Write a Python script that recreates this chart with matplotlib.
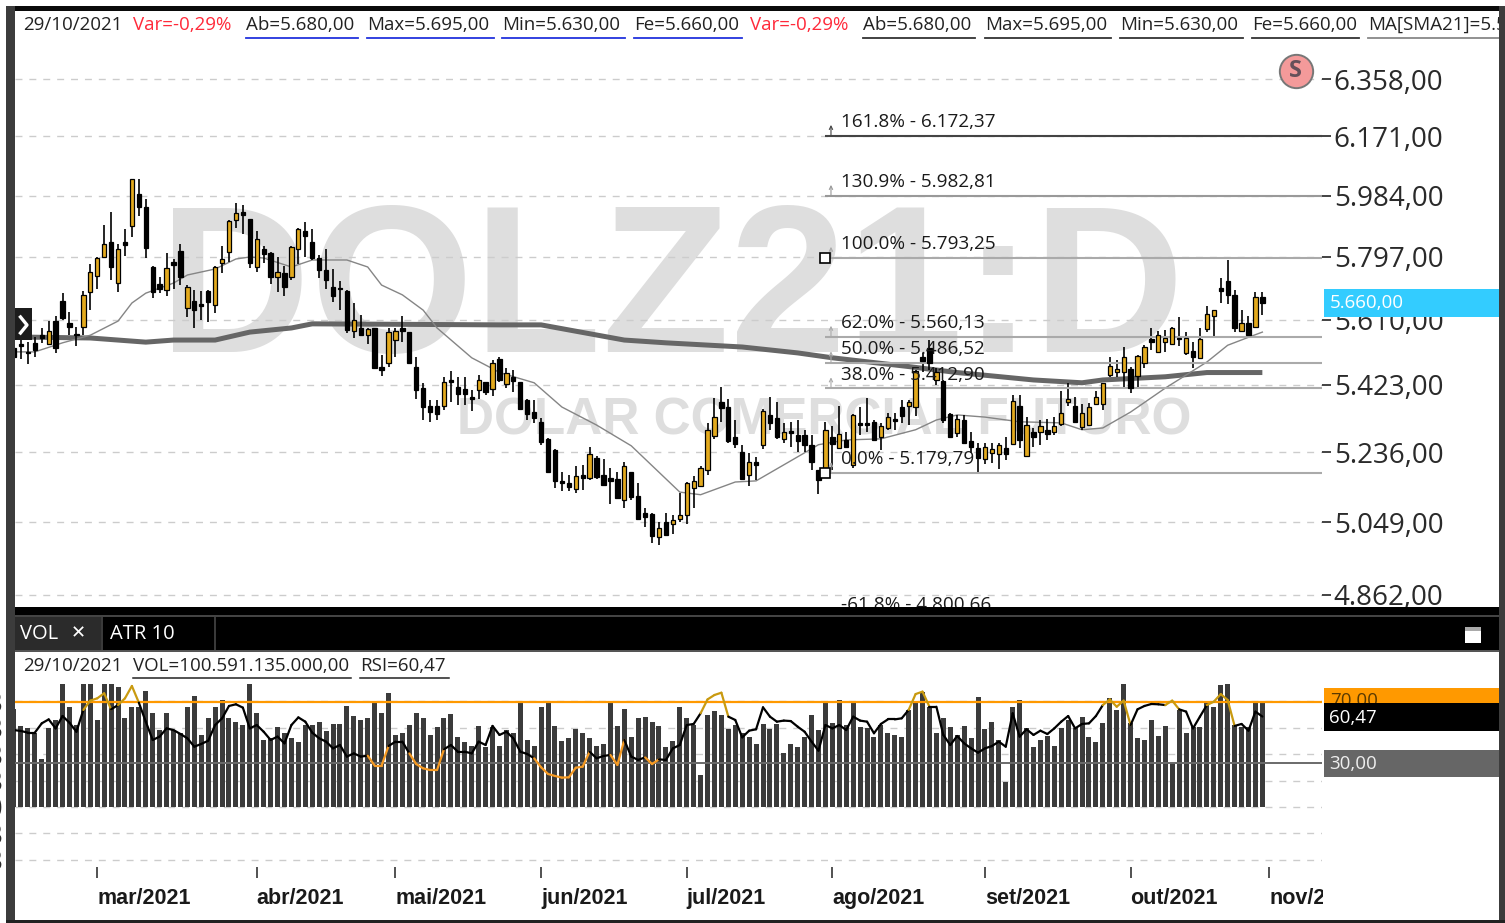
import matplotlib
matplotlib.use('Agg')
import matplotlib.pyplot as plt
import numpy as np
from matplotlib.patches import Rectangle
from matplotlib.lines import Line2D
from matplotlib.ticker import NullLocator
from matplotlib.transforms import offset_copy

W, H = 1505, 923
plt.rcParams['font.family'] = ['Open Sans', 'DejaVu Sans']

# daily candles, one per session
highs = [5537,5551,5546,5561,5585,5606,5621,5688,5634,5590,
         5693,5775,5797,5893,5932,5835,5880,6036,6036,5972,
         5769,5737,5809,5789,5835,5712,5697,5693,5697,5769,
         5829,5908,5960,5955,5913,5875,5829,5812,5797,5769,
         5829,5885,5903,5880,5802,5819,5759,5725,5697,5660,
         5624,5585,5585,5508,5585,5585,5622,5575,5503,5428,
         5381,5381,5446,5463,5446,5446,5409,5451,5432,5494,
         5501,5470,5466,5432,5383,5381,5330,5275,5244,5184,
         5175,5198,5202,5252,5225,5218,5193,5184,5211,5184,
         5152,5086,5073,5051,5074,5068,5127,5157,5172,5200,
         5316,5386,5418,5383,5325,5256,5234,5223,5355,5390,
         5376,5316,5320,5325,5298,5284,5189,5320,5309,5364,
         5293,5342,5362,5386,5325,5316,5343,5343,5381,5381,
         5465,5513,5551,5470,5437,5344,5339,5339,5293,5263,
         5261,5261,5261,5279,5395,5395,5334,5302,5325,5328,
         5334,5407,5428,5390,5370,5372,5407,5428,5501,5494,
         5532,5475,5508,5537,5585,5578,5580,5590,5617,5575,
         5546,5585,5650,5639,5732,5787,5697,5639,5621,5692,5692]
lows = [5495,5496,5483,5503,5542,5537,5513,5610,5565,5534,
        5565,5637,5701,5792,5727,5690,5799,5856,5922,5794,
        5673,5688,5680,5699,5712,5619,5587,5609,5602,5631,
        5747,5782,5883,5865,5762,5750,5777,5715,5690,5680,
        5727,5775,5797,5787,5732,5701,5663,5637,5572,5556,
        5563,5540,5470,5448,5473,5503,5544,5483,5383,5325,
        5320,5325,5353,5376,5367,5367,5351,5383,5395,5392,
        5430,5414,5404,5353,5325,5316,5256,5179,5141,5132,
        5132,5127,5134,5161,5165,5146,5097,5110,5088,5108,
        5058,5038,4996,4990,5012,5018,5051,5045,5086,5145,
        5175,5272,5320,5261,5247,5161,5145,5161,5244,5298,
        5272,5261,5250,5238,5238,5189,5125,5179,5189,5247,
        5247,5193,5284,5293,5270,5243,5298,5298,5316,5311,
        5337,5460,5465,5423,5318,5275,5279,5259,5234,5181,
        5205,5207,5191,5216,5256,5247,5227,5252,5256,5270,
        5284,5307,5364,5316,5297,5307,5367,5353,5446,5444,
        5418,5401,5418,5470,5522,5513,5518,5537,5534,5508,
        5470,5496,5573,5559,5658,5656,5573,5575,5566,5588,5624]
opens = [5527,5539,5518,5542,5565,5539,5606,5666,5601,5568,
         5590,5692,5740,5795,5842,5719,5841,5890,5989,5949,
         5765,5714,5697,5782,5814,5644,5665,5655,5693,5653,
         5777,5812,5908,5932,5913,5767,5820,5807,5735,5747,
         5735,5819,5875,5842,5792,5757,5705,5704,5693,5578,
         5585,5567,5585,5475,5484,5551,5585,5573,5475,5414,
         5365,5365,5364,5437,5416,5411,5390,5409,5432,5411,
         5497,5425,5444,5430,5381,5346,5320,5273,5243,5158,
         5154,5136,5174,5168,5220,5175,5166,5164,5108,5184,
         5119,5073,5071,5010,5051,5045,5057,5068,5141,5146,
         5187,5281,5376,5360,5277,5238,5175,5209,5256,5339,
         5330,5272,5295,5284,5284,5256,5187,5187,5277,5247,
         5270,5202,5318,5318,5320,5277,5304,5328,5360,5365,
         5360,5501,5527,5437,5435,5341,5288,5325,5267,5247,
         5218,5234,5232,5247,5258,5364,5227,5293,5293,5297,
         5291,5313,5374,5365,5305,5311,5369,5369,5451,5460,
         5460,5467,5448,5486,5553,5518,5546,5539,5556,5513,
         5520,5499,5582,5621,5702,5725,5683,5578,5599,5588,5676]
closes = [5503,5535,5515,5523,5556,5578,5527,5614,5588,5565,
          5683,5752,5792,5835,5767,5819,5833,6035,5950,5822,
          5690,5699,5762,5772,5735,5707,5637,5651,5663,5767,
          5790,5906,5931,5923,5777,5851,5805,5735,5752,5707,
          5825,5880,5861,5792,5757,5727,5680,5700,5580,5609,
          5565,5583,5470,5465,5573,5577,5577,5486,5409,5362,
          5346,5342,5431,5430,5398,5398,5383,5437,5404,5485,
          5437,5456,5435,5355,5342,5330,5264,5184,5159,5152,
          5143,5173,5168,5232,5170,5149,5159,5112,5198,5117,
          5058,5062,5014,5035,5016,5055,5068,5152,5158,5193,
          5298,5332,5358,5268,5259,5164,5211,5202,5351,5318,
          5279,5291,5288,5267,5256,5209,5161,5298,5259,5286,
          5252,5338,5311,5312,5270,5309,5332,5321,5336,5374,
          5463,5492,5484,5460,5325,5279,5327,5261,5250,5221,
          5250,5245,5256,5232,5379,5270,5311,5277,5307,5286,
          5307,5344,5384,5320,5344,5360,5390,5428,5478,5468,
          5501,5413,5506,5532,5546,5566,5556,5585,5553,5556,
          5503,5553,5627,5637,5695,5683,5585,5599,5566,5676,5658]

# moving averages, read at their bends
sma21_idx = [0,3,7,11,15,17,19,23,25,29,32,34,36,40,43,48,51,53,56,59,61,66,69,70,75,79,84,89,
             96,99,104,107,113,116,120,125,130,133,136,140,145,151,154,157,161,166,172,175,178,180]
sma21 = [5517,5517,5543,5565,5606,5659,5688,5718,5742,5760,5790,5796,5793,5766,5787,5787,5766,5712,5683,5638,5586,5500,5469,5458,5429,5361,5311,5254,
         5129,5122,5156,5159,5224,5257,5270,5273,5298,5325,5339,5333,5320,5317,5298,5303,5347,5414,5488,5536,5559,5574]
sma200_idx = [0,11,19,23,29,34,40,43,70,76,88,94,105,113,118,129,136,147,154,157,166,172,180]
sma200 = [5560,5557,5545,5551,5551,5574,5586,5598,5595,5595,5551,5543,5531,5514,5500,5475,5458,5437,5429,5437,5446,5458,5458]

# volume in billions
volume = [92.6,76.8,75.2,69.8,45.5,74.6,82.5,117,94.5,77.7,
          117,117,82.5,117,117,113.4,84,94.5,95.1,110.3,
          89.4,73,89.4,73,69.8,94.5,105.2,68.2,84,94.5,
          101.4,84,80.9,77.7,117,89.4,63.5,65.1,75.5,69.8,
          65.1,61.3,77.7,77.7,80.9,72.4,78.7,78.7,96,86.3,
          82.5,84,98.3,89.4,108.4,68.2,70.5,77.7,89.4,84,
          68.2,75.5,84,87.8,66.7,61.3,57.8,77.1,57.2,76.1,
          57.8,73,69.8,98.3,63.5,57.8,94.5,98.3,76.8,62.9,
          65.1,73.6,70.5,65.1,57.8,59.7,98.3,76.8,92.6,66.7,
          84,85.6,80.9,76.8,56.6,62.9,94.5,84,77.7,30.3,
          87.2,91,87.2,73.6,77.7,69.8,66.7,59.7,78.7,73.6,
          78.7,50.9,59.7,56.6,66.7,87.2,73,98.3,79.9,101.4,
          77.7,98.3,75.5,74.6,66.7,77.7,69.8,68.2,66.7,91.9,
          98.3,109.3,95.1,69.8,84,75.5,68.2,76.8,65.1,104.6,
          73.6,80.9,63.5,23.4,94.5,101.4,74.6,56.6,63.5,67.3,
          58.1,74.6,82.5,74.6,85.6,66.7,61.3,79.3,103,91.9,
          117,79.3,65.1,63.5,82.5,67.3,77.1,42,91.9,70.5,
          76.1,75.5,98.3,95.1,115.6,117,77.7,76.1,75.5,98.3,100.59]

rsi = [51.6,51,49.9,49.9,56,58.6,52.7,60.8,56.4,50.5,
       64.8,70.9,72.4,75.7,65.2,68,72.4,80.5,69.6,57.1,
       45.1,47.3,52.7,51.6,49,46.2,40.7,42.5,44.6,54.9,
       59.3,67.4,68.5,66.3,52.7,54.9,50.5,45.1,47.3,42.9,
       54.9,59.9,57.1,49.9,46.2,44,39.6,41.8,34.2,36.3,
       34.2,34.8,28.3,28.3,41.1,44,44,36.3,29.3,26.5,
       25.4,25.4,39,41.8,37.4,37.4,36.3,44,41.8,54.3,
       48.4,50.5,46.2,37.4,35.9,33.1,27.2,22.8,21.5,20.4,
       20.6,26.9,27.6,37.4,33.1,34.6,35.3,28.7,45.1,34.2,
       32,33.7,29.3,32.4,32,39.6,41.8,54.9,55.6,62.6,
       71.7,74.6,76.1,60.4,58.2,46.8,51.2,52.1,66.5,60.4,
       57.1,57.8,57.5,53.8,50.5,44,38.1,54.9,52.7,54.9,
       51.6,60.4,57.8,57.1,49.5,55.6,58.6,58.6,59.3,64.8,
       75.2,76.8,66.9,66.9,48.4,41.8,47.7,42.9,39.6,36.8,
       39.6,41.1,44,40.7,62.6,47.3,52.1,48.4,51.2,49,
       52.7,57.1,60.8,52.7,55.6,56,60.8,68,71.7,66.9,
       70.9,54.9,65.2,67.4,68.7,68.5,68,70.9,65.2,63.7,
       52.7,60.4,68,70.2,75.2,71.3,54.3,55.6,51.2,63.7,60.47]

price_ticks = [6358, 6171, 5984, 5797, 5610, 5423, 5236, 5049, 4862]
price_labels = ['6.358,00', '6.171,00', '5.984,00', '5.797,00', '5.610,00', '5.423,00', '5.236,00', '5.049,00', '4.862,00']
vol_ticks = [100, 75, 50, 25, 0, -25, -50]
vol_labels = ['100,00 B', '75,00 B', '50,00 B', '25,00 B', '0,00', '-25,00 B', '-50,00 B']
month_idx = [12, 35, 55, 76, 97, 118, 140, 161, 181]
month_labels = ['mar/2021', 'abr/2021', 'mai/2021', 'jun/2021', 'jul/2021', 'ago/2021', 'set/2021', 'out/2021', 'nov/2021']

fib_levels = [6172.37, 5982.81, 5793.25, 5560.13, 5486.52, 5412.90, 5179.79, 4800.66]
fib_labels = ['161.8% - 6.172,37', '130.9% - 5.982,81', '100.0% - 5.793,25', '62.0% - 5.560,13',
              '50.0% - 5.486,52', '38.0% - 5.412,90', '0.0% - 5.179,79', '-61.8% - 4.800,66']
FIB_START = 117


def fx(x):
    return x / W


def fy(y):
    return 1 - y / H


def fig_box(x0, y0, x1, y1, color, z=5):
    fig.add_artist(Rectangle((fx(x0), fy(y1)), (x1 - x0) / W, (y1 - y0) / H, transform=fig.transFigure,
                             facecolor=color, edgecolor='none', zorder=z))


def fig_label(x, y, s, color='#222222', size=13.5, z=7, **kw):
    fig.text(fx(x), fy(y), s, color=color, fontsize=size, va='center', ha='left', zorder=z, **kw)


def fig_line(xs, ys, color, lw=1.4, z=6):
    fig.add_artist(Line2D([fx(v) for v in xs], [fy(v) for v in ys], color=color, lw=lw,
                          transform=fig.transFigure, zorder=z))


fig = plt.figure(figsize=(W / 100, H / 100), dpi=100, facecolor='white')
xs = np.arange(len(closes))
XLIM = (0.144, 188.6)

# price panel (log scale, like the platform)
ax = fig.add_axes([fx(15), fy(607), (1322 - 15) / W, (607 - 11) / H])
ax.set_yscale('log')
ax.set_xlim(*XLIM)
ax.set_ylim(4831.5, 6587)
ax.yaxis.set_major_locator(plt.FixedLocator(price_ticks))
ax.yaxis.set_minor_locator(NullLocator())
ax.set_yticklabels(price_labels)
ax.yaxis.tick_right()
ax.tick_params(axis='y', which='major', length=6.5, width=1.2, color='#222222', labelsize=20, labelcolor='#2a2a2a', pad=2)
ax.set_xticks([])
for s in ax.spines.values():
    s.set_visible(False)
ax.set_axisbelow(True)
ax.grid(True, axis='y', color='#cccccc', lw=1.0, ls=(0, (5, 5)))

# watermark
ax.text(fx(672), fy(298), 'DOLZ21:D', transform=fig.transFigure, family='Liberation Sans', fontweight='bold',
        fontsize=151, color='#dedede', ha='center', va='center', zorder=0.1)
ax.text(fx(824), fy(421), 'DOLAR COMERCIAL FUTURO', transform=fig.transFigure, family='Liberation Sans',
        fontweight='bold', fontsize=37, color='#dedede', ha='center', va='center', zorder=0.1)

ax.plot(sma200_idx, sma200, color='#666666', lw=3.6, zorder=2, solid_capstyle='butt')
ax.plot(sma21_idx, sma21, color='#858585', lw=1.0, zorder=2)

# candles
up = np.array(closes) >= np.array(opens)
ax.vlines(xs, lows, highs, color='black', lw=1.2, zorder=3)
tops = np.maximum(opens, closes)
bots = np.minimum(opens, closes)
ax.bar(xs, tops - bots, bottom=bots, width=0.62, color=np.where(up, '#e3aa1e', 'black'),
       edgecolor='black', linewidth=0.9, zorder=4)

# fibonacci levels
fib_colors = ['#444444', '#999999', '#aaaaaa', '#aaaaaa', '#aaaaaa', '#aaaaaa', '#aaaaaa', '#aaaaaa']
up_shift = offset_copy(ax.transData, fig=fig, y=8, units='points')
for lev, lab, col in zip(fib_levels, fib_labels, fib_colors):
    ax.hlines(lev, FIB_START, XLIM[1], color=col, lw=1.5, zorder=3)
    ax.annotate(lab, xy=(FIB_START, lev), xytext=(11.5, 3.5), textcoords='offset points', fontsize=13.6,
                color='#1a1a1a', va='bottom', ha='left', annotation_clip=False, zorder=6)
    if lev > 4900:
        ax.annotate('', xy=(FIB_START + 0.8, lev), xycoords=up_shift, xytext=(FIB_START + 0.8, lev),
                    textcoords='data', annotation_clip=False, zorder=5,
                    arrowprops=dict(arrowstyle='->', color=col, lw=0.8, shrinkA=0, shrinkB=0, mutation_scale=6))
ax.plot([FIB_START, FIB_START], [fib_levels[2], fib_levels[6]], ls='none', marker='s', ms=6.5,
        mfc='white', mec='black', mew=1.2, zorder=7)

# signal marker
ax.plot([184.8], [6384], ls='none', marker='o', ms=24, mfc='#f49a9a', mec='#777777', mew=1.4, zorder=7, clip_on=False)
ax.text(184.8, 6384, 'S', fontsize=17, fontweight='bold', color='#65505a', ha='center', va='center', zorder=8)

# volume / rsi panel
ax_vol = fig.add_axes([fx(15), fy(867), (1322 - 15) / W, (867 - 650) / H])
ax_vol.set_xlim(*XLIM)
ax_vol.set_ylim(-56.9, 148.8)
ax_vol.set_yticks(vol_ticks)
ax_vol.set_yticklabels(vol_labels)
ax_vol.yaxis.tick_right()
ax_vol.tick_params(axis='y', length=6.5, width=1.2, color='#222222', labelsize=20, labelcolor='#2a2a2a', pad=2)
ax_vol.set_xticks(month_idx)
ax_vol.set_xticklabels(month_labels, ha='left', family='Liberation Sans', fontweight='bold', fontsize=15.5, color='#1a1a1a')
ax_vol.tick_params(axis='x', length=8, width=1.2, color='#333333', pad=7)
for s in ax_vol.spines.values():
    s.set_visible(False)
ax_vol.set_axisbelow(True)
ax_vol.grid(True, axis='y', color='#cccccc', lw=1.0, ls=(0, (5, 5)))
ax_vol.bar(xs, volume, width=0.72, color='#3b3b3b', zorder=2)

ax_rsi = ax_vol.twinx()
ax_rsi.set_ylim(-38.2, 104.1)
ax_rsi.set_yticks([])
for s in ax_rsi.spines.values():
    s.set_visible(False)
ax_rsi.axhline(70, color='#ff9900', lw=1.6, zorder=3)
ax_rsi.axhline(30, color='#6a6a6a', lw=1.4, zorder=3)
for i in range(len(rsi) - 1):
    a, b = rsi[i], rsi[i + 1]
    if a > 70 or b > 70:
        col = '#c99a10'
    elif a < 30 or b < 30:
        col = '#f59a23'
    else:
        col = 'black'
    ax_rsi.plot([i, i + 1], [a, b], color=col, lw=1.6, zorder=4, solid_capstyle='round')

# window frame
fig_box(0, 0, 1505, 6, 'white', z=4)
fig_box(6, 6, 1505, 11, '#0a0a0a')
fig_box(6, 6, 15, 923, '#3c3c3c')
fig_box(1499, 6, 1505, 923, '#3c3c3c')
fig_box(6, 920, 1505, 923, '#222222')
fig_box(1323, 868, 1499, 920, 'white')
fig_box(1323, 880, 1499, 920, 'white')

# black header between the panels
fig_box(15, 607, 1499, 651, 'black')
fig_box(15, 615, 1499, 617, '#444444', z=5.5)
fig_box(15, 650, 1499, 652, '#555555', z=5.5)
fig_box(15, 617, 101, 650, '#2b2b2b', z=5.5)
fig_box(214, 617, 216, 650, '#3a3a3a', z=5.5)
fig_box(101, 617, 103, 650, '#3a3a3a', z=5.5)
fig_label(20, 634, 'VOL', color='white', size=14.5)
fig_label(71, 633, '✕', color='white', size=13, fontweight='bold', family='DejaVu Sans')
fig_label(110, 634, 'ATR 10', color='white', size=14.5)
fig_box(1465, 627, 1481, 643, 'white', z=6)
fig_box(1465, 627, 1481, 631, '#aaaaaa', z=6.5)

# chevron tab
fig_box(15, 308, 32, 340, '#1c1c1c')
fig_line([20.5, 27, 20.5], [317, 325, 333], 'white', lw=2.4)

# header strip of the price panel
fig_label(23, 25, '29/10/2021')
fig_label(133, 25, 'Var=-0,29%', color='#ff2a3a')
fig_label(750, 25, 'Var=-0,29%', color='#ff2a3a')
for x0, x1, txt, ucol in [(246, 358, 'Ab=5.680,00', '#2233dd'), (367, 494, 'Max=5.695,00', '#2233dd'),
                          (502, 625, 'Min=5.630,00', '#2233dd'), (634, 742, 'Fe=5.660,00', '#2233dd'),
                          (863, 975, 'Ab=5.680,00', '#333333'), (985, 1111, 'Max=5.695,00', '#333333'),
                          (1120, 1243, 'Min=5.630,00', '#333333'), (1252, 1359, 'Fe=5.660,00', '#333333'),
                          (1368, 1499, 'MA[SMA21]=5.5', '#888888')]:
    fig_label(x0, 25, txt, z=4.5)
    fig_line([x0, x1], [37.5, 37.5], ucol, lw=1.3, z=4.6)

# header strip of the lower panel
fig_label(23, 666, '29/10/2021')
fig_label(133, 666, 'VOL=100.591.135.000,00')
fig_line([133, 351], [678, 678], '#222222', lw=1.1)
fig_label(360, 666, 'RSI=60,47')
fig_line([360, 449], [678, 678], '#222222', lw=1.1)

# price tags on the right
fig_box(1324, 289, 1499, 317, '#33ccff')
fig_label(1330, 303, '5.660,00', color='white')
fig_box(1324, 688, 1499, 703, '#ff9900')
fig_label(1330, 701, '70,00', color='#5a3a00', z=5.2)
fig_box(1324, 703, 1499, 731, 'black', z=5.5)
fig_label(1329, 718, '60,47', color='white')
fig_box(1324, 750, 1499, 777, '#666666')
fig_label(1329, 764, '30,00', color='#eeeeee')

fig.savefig('out.png', dpi=100)
